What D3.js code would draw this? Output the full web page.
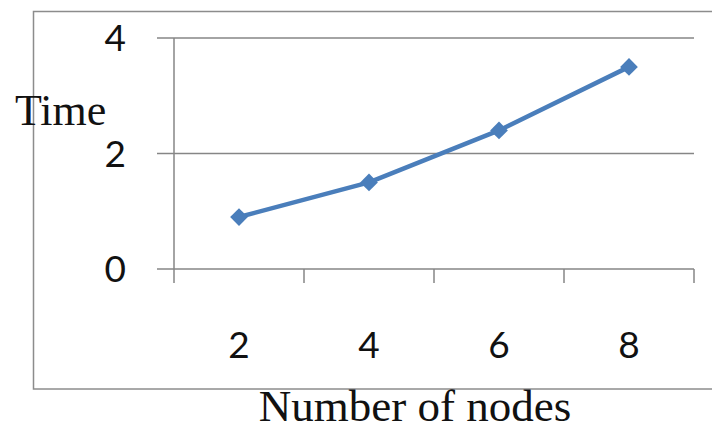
<!DOCTYPE html>
<html>
<head>
<meta charset="utf-8">
<script src="https://cdn.jsdelivr.net/npm/d3@7"></script>
<style>
  html, body { margin: 0; padding: 0; background: #fff; }
  svg { display: block; }
</style>
</head>
<body>
<svg id="chart" width="712" height="432"></svg>
<script>
const categories = ["2", "4", "6", "8"];
const timeValues = [0.9, 1.5, 2.4, 3.5];
const yTicks = [0, 2, 4];
const yTitle = "Time";
const xTitle = "Number of nodes";

const svg = d3.select("#chart");
const plotLeft = 174, plotRight = 694, plotTop = 38, plotBottom = 269;

// outer border
svg.append("rect")
  .attr("x", 33.5).attr("y", 11.5)
  .attr("width", 700).attr("height", 377.5)
  .attr("fill", "none").attr("stroke", "#8c8c8c").attr("stroke-width", 1.5);

const x = d3.scaleBand().domain(categories).range([plotLeft, plotRight]).padding(0);
const y = d3.scaleLinear().domain([0, 4]).range([plotBottom, plotTop]);

const gridColor = "#868686";

// gridlines + y ticks
svg.append("g").selectAll("line").data(yTicks).join("line")
  .attr("x1", plotLeft - 17).attr("x2", plotRight)
  .attr("y1", d => y(d)).attr("y2", d => y(d))
  .attr("stroke", gridColor).attr("stroke-width", 1.5);

// y axis line
svg.append("line")
  .attr("x1", plotLeft).attr("x2", plotLeft)
  .attr("y1", plotTop).attr("y2", plotBottom + 14)
  .attr("stroke", gridColor).attr("stroke-width", 1.5);

// x ticks at band edges
const edges = categories.map(c => x(c)).concat([x(categories[categories.length - 1]) + x.bandwidth()]);
svg.append("g").selectAll("line").data(edges.slice(1)).join("line")
  .attr("x1", d => d).attr("x2", d => d)
  .attr("y1", plotBottom).attr("y2", plotBottom + 14)
  .attr("stroke", gridColor).attr("stroke-width", 1.5);

// y tick labels
svg.append("g").selectAll("text").data(yTicks).join("text")
  .attr("x", 126).attr("y", d => y(d))
  .attr("dy", "0.36em")
  .attr("text-anchor", "end")
  .attr("font-family", "Lato, 'Open Sans', sans-serif")
  .attr("font-size", 37)
  .attr("fill", "#111")
  .text(d => d);

// x tick labels
svg.append("g").selectAll("text").data(categories).join("text")
  .attr("x", d => x(d) + x.bandwidth() / 2).attr("y", 358)
  .attr("text-anchor", "middle")
  .attr("font-family", "Lato, 'Open Sans', sans-serif")
  .attr("font-size", 37)
  .attr("fill", "#111")
  .text(d => d);

// line
const pts = categories.map((c, i) => [x(c) + x.bandwidth() / 2, y(timeValues[i])]);
svg.append("path")
  .datum(pts)
  .attr("d", d3.line())
  .attr("fill", "none")
  .attr("stroke", "#4a7ebb")
  .attr("stroke-width", 4.5)
  .attr("stroke-linejoin", "round");

// diamond markers
svg.append("g").selectAll("path").data(pts).join("path")
  .attr("transform", d => `translate(${d[0]},${d[1]})`)
  .attr("d", d3.symbol(d3.symbolDiamond2, 200))
  .attr("fill", "#4a7ebb");

// titles
svg.append("text")
  .attr("x", 15).attr("y", 125)
  .attr("font-family", "'Liberation Serif', 'Times New Roman', serif")
  .attr("font-size", 44)
  .attr("fill", "#111")
  .text(yTitle);

svg.append("text")
  .attr("x", 415).attr("y", 421)
  .attr("text-anchor", "middle")
  .attr("font-family", "'Liberation Serif', 'Times New Roman', serif")
  .attr("font-size", 45)
  .attr("fill", "#111")
  .text(xTitle);
</script>
</body>
</html>
